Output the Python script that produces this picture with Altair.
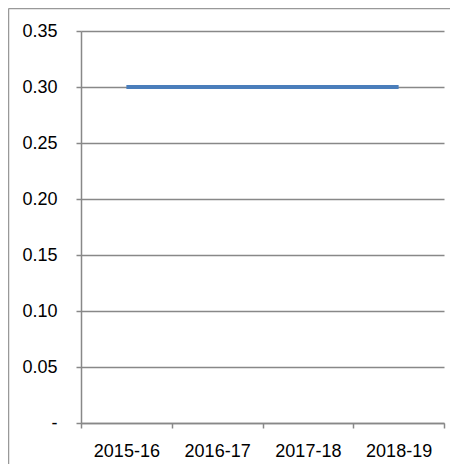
import altair as alt
import pandas as pd

years = ["2015-16", "2016-17", "2017-18", "2018-19"]
values = [0.30, 0.30, 0.30, 0.30]

df = pd.DataFrame({"year": years, "value": values})

W, H = 363, 392
GRID = "#888888"
FONT = "Liberation Sans"

line = alt.Chart(df).mark_line(color="#4A7EBB", strokeWidth=4, strokeCap="butt").encode(
    x=alt.X("year:N", sort=years, title=None,
            scale=alt.Scale(paddingInner=0, paddingOuter=0),
            axis=alt.Axis(labelAngle=0, tickBand="extent", domainColor=GRID, tickColor=GRID,
                          tickSize=5, labelPadding=14, grid=False, domainWidth=1.5, tickWidth=1.5)),
    y=alt.Y("value:Q", title=None,
            scale=alt.Scale(domain=[0, 0.35], nice=False),
            axis=alt.Axis(values=[0, 0.05, 0.1, 0.15, 0.2, 0.25, 0.3, 0.35],
                          labelExpr="datum.value == 0 ? '-\u00a0\u00a0' : format(datum.value, '.2f')",
                          domainColor=GRID, tickColor=GRID, gridColor=GRID, gridWidth=1.5,
                          tickSize=5, labelPadding=19, domainWidth=1.5, tickWidth=1.5)),
)

border = pd.DataFrame({"d": [0]})
top_border = alt.Chart(border).mark_rule(color="#999999", strokeWidth=1.5).encode(
    x=alt.value(-72.5), x2=alt.value(W + 6), y=alt.value(-22.5))
left_border = alt.Chart(border).mark_rule(color="#999999", strokeWidth=1.5).encode(
    x=alt.value(-72.5), y=alt.value(-22.5), y2=alt.value(H + 60))

chart = alt.layer(line, top_border, left_border).properties(
    width=W, height=H,
    autosize=alt.AutoSizeParams(type="none"),
    padding={"left": 73, "top": 23, "right": 6, "bottom": 41},
).configure_view(stroke=None).configure_axis(
    labelFont=FONT, labelFontSize=18, labelColor="black"
)

chart.save("out.html", embed_options={"renderer": "svg", "actions": False})
